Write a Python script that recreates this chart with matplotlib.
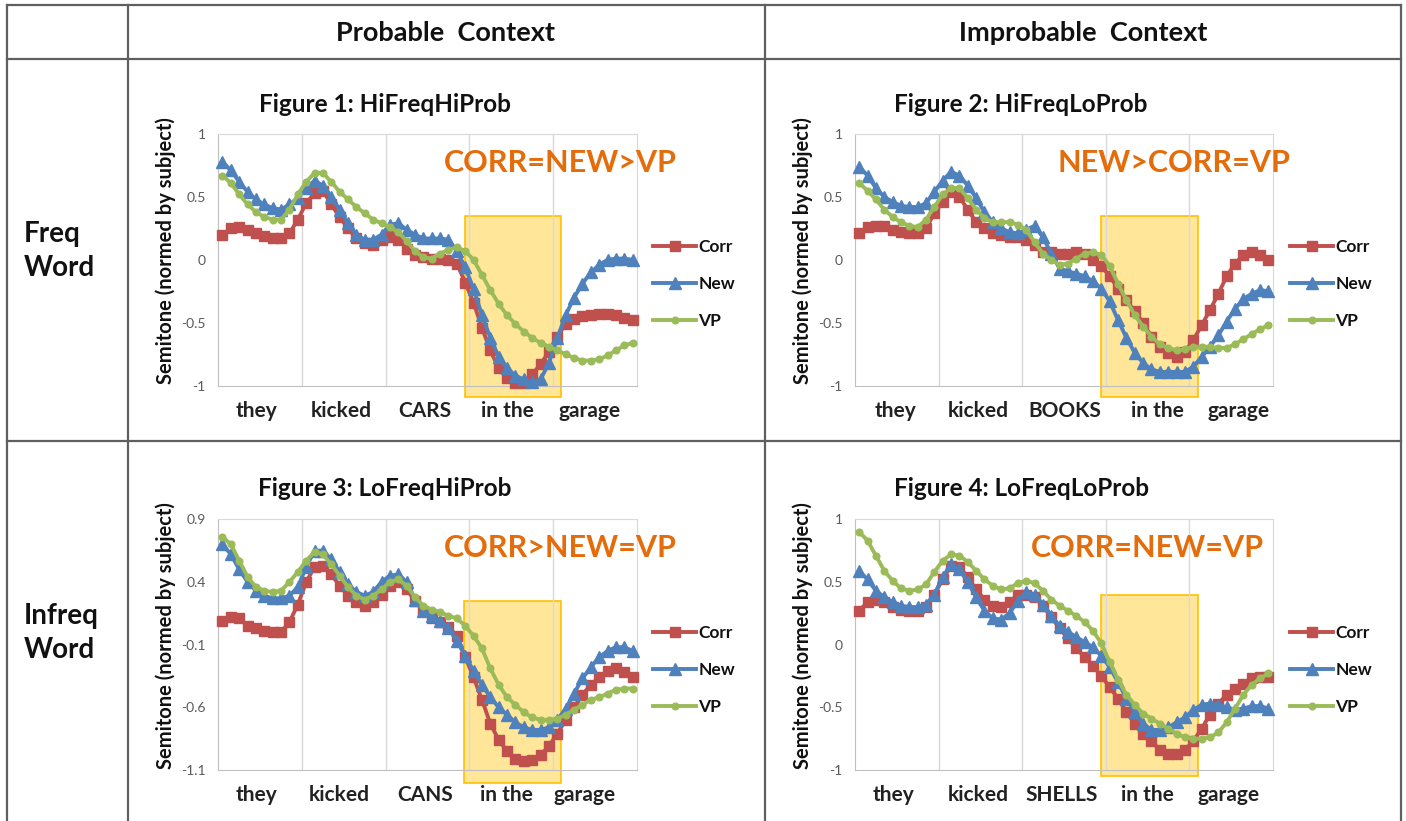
import numpy as np
import matplotlib
matplotlib.use("Agg")
import matplotlib.pyplot as plt
from matplotlib.patches import Rectangle

plt.rcParams['font.family'] = ['Lato', 'DejaVu Sans']

# ---- data (semitone, normed by subject), 50 samples across the sentence ----
words1 = ['they', 'kicked', 'CARS', 'in the', 'garage']
words2 = ['they', 'kicked', 'BOOKS', 'in the', 'garage']
words3 = ['they', 'kicked', 'CANS', 'in the', 'garage']
words4 = ['they', 'kicked', 'SHELLS', 'in the', 'garage']

corr1 = [0.20, 0.25, 0.26, 0.24, 0.21, 0.19, 0.17, 0.17, 0.21, 0.32,
         0.45, 0.53, 0.55, 0.44, 0.34, 0.25, 0.17, 0.13, 0.12, 0.16,
         0.18, 0.16, 0.09, 0.04, 0.02, 0.01, 0.01, 0.00, -0.03, -0.18,
         -0.34, -0.54, -0.72, -0.86, -0.94, -0.98, -0.98, -0.91, -0.83, -0.73,
         -0.61, -0.51, -0.47, -0.45, -0.44, -0.43, -0.43, -0.44, -0.46, -0.48]
new1 = [0.78, 0.71, 0.62, 0.54, 0.48, 0.44, 0.41, 0.40, 0.44, 0.49,
        0.57, 0.63, 0.59, 0.50, 0.40, 0.29, 0.20, 0.16, 0.16, 0.20,
        0.28, 0.29, 0.24, 0.20, 0.17, 0.17, 0.17, 0.16, 0.07, -0.06,
        -0.23, -0.44, -0.62, -0.77, -0.86, -0.92, -0.95, -0.97, -0.95, -0.82,
        -0.62, -0.44, -0.30, -0.19, -0.10, -0.04, 0.00, 0.01, 0.01, 0.00]
vp1 = [0.67, 0.61, 0.52, 0.44, 0.38, 0.34, 0.32, 0.32, 0.40, 0.52,
       0.62, 0.69, 0.69, 0.62, 0.54, 0.48, 0.42, 0.37, 0.32, 0.29,
       0.26, 0.22, 0.15, 0.07, 0.02, 0.01, 0.05, 0.08, 0.10, 0.07,
       0.00, -0.12, -0.24, -0.35, -0.44, -0.51, -0.57, -0.62, -0.66, -0.69,
       -0.72, -0.75, -0.78, -0.80, -0.80, -0.79, -0.76, -0.72, -0.68, -0.66]

corr2 = [0.21, 0.26, 0.27, 0.27, 0.24, 0.22, 0.21, 0.21, 0.25, 0.37,
         0.46, 0.54, 0.50, 0.40, 0.30, 0.25, 0.21, 0.20, 0.18, 0.18,
         0.16, 0.12, 0.06, 0.06, 0.05, 0.05, 0.06, 0.05, 0.00, -0.05,
         -0.13, -0.23, -0.32, -0.41, -0.50, -0.61, -0.69, -0.74, -0.77, -0.73,
         -0.64, -0.52, -0.40, -0.27, -0.13, -0.03, 0.04, 0.06, 0.04, 0.00]
new2 = [0.74, 0.67, 0.57, 0.50, 0.46, 0.43, 0.42, 0.42, 0.45, 0.54,
        0.63, 0.70, 0.67, 0.59, 0.49, 0.38, 0.30, 0.25, 0.22, 0.21,
        0.24, 0.27, 0.18, 0.05, -0.07, -0.09, -0.11, -0.13, -0.17, -0.23,
        -0.33, -0.48, -0.62, -0.74, -0.82, -0.87, -0.89, -0.89, -0.89, -0.89,
        -0.85, -0.77, -0.69, -0.60, -0.49, -0.39, -0.31, -0.27, -0.24, -0.25]
vp2 = [0.61, 0.55, 0.48, 0.40, 0.34, 0.30, 0.27, 0.26, 0.32, 0.42,
       0.52, 0.57, 0.57, 0.49, 0.40, 0.33, 0.30, 0.30, 0.30, 0.28,
       0.24, 0.14, 0.05, 0.00, -0.04, -0.03, 0.01, 0.05, 0.06, 0.04,
       -0.05, -0.19, -0.32, -0.44, -0.53, -0.61, -0.67, -0.70, -0.72, -0.71,
       -0.69, -0.69, -0.69, -0.70, -0.70, -0.67, -0.63, -0.59, -0.55, -0.52]

corr3 = [0.09, 0.12, 0.11, 0.05, 0.03, 0.01, 0.00, 0.00, 0.08, 0.22,
         0.40, 0.52, 0.53, 0.46, 0.37, 0.29, 0.24, 0.21, 0.24, 0.30,
         0.37, 0.40, 0.34, 0.25, 0.17, 0.11, 0.08, 0.04, -0.03, -0.20,
         -0.36, -0.54, -0.73, -0.86, -0.95, -1.01, -1.03, -1.02, -0.98, -0.91,
         -0.81, -0.70, -0.60, -0.50, -0.42, -0.36, -0.31, -0.29, -0.32, -0.36]
new3 = [0.70, 0.62, 0.50, 0.40, 0.33, 0.29, 0.27, 0.27, 0.29, 0.36,
        0.52, 0.65, 0.65, 0.58, 0.48, 0.38, 0.32, 0.29, 0.32, 0.40,
        0.45, 0.46, 0.40, 0.26, 0.17, 0.13, 0.09, 0.03, -0.07, -0.19,
        -0.31, -0.42, -0.52, -0.60, -0.66, -0.72, -0.76, -0.78, -0.78, -0.76,
        -0.70, -0.61, -0.49, -0.37, -0.28, -0.20, -0.15, -0.12, -0.12, -0.15]
vp3 = [0.76, 0.70, 0.57, 0.44, 0.36, 0.33, 0.32, 0.33, 0.40, 0.48,
       0.57, 0.64, 0.62, 0.54, 0.45, 0.36, 0.29, 0.26, 0.29, 0.34,
       0.40, 0.42, 0.37, 0.28, 0.21, 0.18, 0.16, 0.13, 0.11, 0.05,
       -0.03, -0.13, -0.29, -0.42, -0.52, -0.58, -0.64, -0.68, -0.70, -0.70,
       -0.69, -0.66, -0.62, -0.58, -0.54, -0.52, -0.49, -0.46, -0.45, -0.45]

corr4 = [0.27, 0.34, 0.36, 0.34, 0.30, 0.28, 0.27, 0.27, 0.30, 0.40,
         0.52, 0.63, 0.62, 0.54, 0.44, 0.36, 0.31, 0.30, 0.34, 0.40,
         0.40, 0.38, 0.31, 0.22, 0.13, 0.05, -0.03, -0.10, -0.17, -0.25,
         -0.34, -0.43, -0.54, -0.63, -0.71, -0.77, -0.84, -0.87, -0.87, -0.84,
         -0.77, -0.67, -0.56, -0.47, -0.40, -0.35, -0.31, -0.27, -0.26, -0.26]
new4 = [0.59, 0.52, 0.43, 0.38, 0.34, 0.31, 0.30, 0.30, 0.32, 0.40,
        0.54, 0.64, 0.60, 0.50, 0.38, 0.27, 0.21, 0.20, 0.25, 0.35,
        0.42, 0.40, 0.32, 0.23, 0.15, 0.10, 0.06, 0.02, -0.02, -0.09,
        -0.18, -0.30, -0.43, -0.54, -0.63, -0.68, -0.68, -0.66, -0.62, -0.58,
        -0.52, -0.48, -0.47, -0.48, -0.50, -0.52, -0.51, -0.49, -0.49, -0.51]
vp4 = [0.90, 0.83, 0.71, 0.59, 0.51, 0.45, 0.43, 0.44, 0.48, 0.58,
       0.67, 0.72, 0.71, 0.66, 0.59, 0.52, 0.47, 0.44, 0.45, 0.49,
       0.51, 0.49, 0.43, 0.36, 0.31, 0.27, 0.23, 0.18, 0.11, 0.01,
       -0.14, -0.28, -0.40, -0.48, -0.55, -0.59, -0.63, -0.67, -0.71, -0.74,
       -0.75, -0.75, -0.74, -0.70, -0.62, -0.51, -0.40, -0.32, -0.27, -0.23]

yticks_a = [-1, -0.5, 0, 0.5, 1]
yticks_b = [-1.1, -0.6, -0.1, 0.4, 0.9]

titles = ['Figure 1: HiFreqHiProb', 'Figure 2: HiFreqLoProb',
          'Figure 3: LoFreqHiProb', 'Figure 4: LoFreqLoProb']
notes = ['CORR=NEW>VP', 'NEW>CORR=VP', 'CORR>NEW=VP', 'CORR=NEW=VP']

RED, BLUE, GREEN = '#C0504D', '#4F81BD', '#9BBB59'
ORANGE = '#E46C0A'
W, H = 1406, 821

fig = plt.figure(figsize=(W / 100, H / 100), dpi=100)

# table frame drawn in pixel coordinates
bg = fig.add_axes([0, 0, 1, 1])
bg.set_xlim(0, W)
bg.set_ylim(H, 0)
bg.axis('off')
lc = '#5f5f5f'
for x in [7, 127.5, 765, 1400.5]:
    bg.plot([x, x], [5, H], color=lc, lw=1.6)
for y in [5, 59.5, 441]:
    bg.plot([7, 1400.5], [y, y], color=lc, lw=1.6)

bg.text(446, 33, 'Probable  Context', ha='center', va='center', fontsize=19.5, fontweight='bold', color='#111111')
bg.text(1083, 33, 'Improbable  Context', ha='center', va='center', fontsize=19.5, fontweight='bold', color='#111111')
bg.text(24, 251, 'Freq\nWord', ha='left', va='center', fontsize=20, fontweight='bold', color='#111111', linespacing=1.4)
bg.text(24, 633, 'Infreq\nWord', ha='left', va='center', fontsize=20, fontweight='bold', color='#111111', linespacing=1.4)

# panel geometry in pixels: left, top, right, bottom
boxes = [(218.3, 134, 636.8, 385.7), (855, 134, 1272.6, 385.7),
         (218.3, 519.3, 636.8, 770), (855, 519.3, 1272.6, 770)]
title_pos = [(385, 104), (1021, 104), (385, 488), (1021, 488)]
legend_pos = [(653, 284), (1290, 284), (653, 670), (1290, 670)]
rects = [(29.5, 41.0, -1.09, 0.35), (29.5, 41.1, -1.09, 0.35),
         (29.4, 41.0, -1.20, 0.25), (29.5, 41.1, -1.05, 0.40)]
note_pos = [(27.0, 0.77), (24.2, 0.77), (27.0, 0.67), (21.0, 0.77)]
word_pos = [[4.6, 14.65, 24.7, 34.5, 44.3], [4.8, 14.7, 25.1, 36.2, 45.9],
            [4.6, 14.5, 24.7, 34.4, 43.8], [4.55, 14.7, 24.8, 35.0, 44.7]]

series = [(corr1, new1, vp1), (corr2, new2, vp2), (corr3, new3, vp3), (corr4, new4, vp4)]
words = [words1, words2, words3, words4]
yticks = [yticks_a, yticks_a, yticks_b, yticks_a]

for k in range(4):
    l, t, r, b = boxes[k]
    ax = fig.add_axes([l / W, 1 - b / H, (r - l) / W, (b - t) / H])
    corr, new, vp = series[k]
    x = np.arange(len(corr)) + 0.5

    x0, x1, y0, y1 = rects[k]
    ax.add_patch(Rectangle((x0, y0), x1 - x0, y1 - y0, facecolor='#FFE699',
                           edgecolor='#FFC000', lw=1.2, clip_on=False, zorder=0.5))
    for gx in [10, 20, 30, 40]:
        ax.axvline(gx, color='#D9D9D9', lw=1, zorder=1)

    ax.plot(x, corr, color=RED, lw=2.8, marker='s', ms=7.5, label='Corr', zorder=3, clip_on=False)
    ax.plot(x, new, color=BLUE, lw=2.8, marker='^', ms=8, label='New', zorder=4, clip_on=False)
    ax.plot(x, vp, color=GREEN, lw=2.8, marker='o', ms=4.8, label='VP', zorder=5, clip_on=False)

    ax.set_xlim(0, 50)
    ax.set_ylim(yticks[k][0], yticks[k][-1])
    ax.set_yticks(yticks[k])
    ax.set_yticklabels([f'{v:g}' for v in yticks[k]])
    ax.set_xticks(word_pos[k])
    ax.set_xticklabels(words[k], fontsize=15, fontweight='bold', color='#222222')
    ax.tick_params(axis='y', length=0, pad=9, labelsize=10, labelcolor='#595959')
    ax.tick_params(axis='x', length=0, pad=11)
    for side in ['top', 'right']:
        ax.spines[side].set_color('#D9D9D9')
    for side in ['left', 'bottom']:
        ax.spines[side].set_color('#BFBFBF')
    ax.set_ylabel('Semitone (normed by subject)', fontsize=14.5, fontweight='bold', color='#111111')
    ax.yaxis.set_label_coords(-0.101, 0.535)

    ax.text(note_pos[k][0], note_pos[k][1], notes[k], ha='left', va='center',
            fontsize=22, fontweight='bold', color=ORANGE, zorder=6)

    bg.text(title_pos[k][0], title_pos[k][1], titles[k], ha='center', va='center',
            fontsize=17.5, fontweight='bold', color='#111111')

    lx, ly = legend_pos[k]
    leg = ax.legend(loc='center left', bbox_to_anchor=(lx / W, 1 - ly / H),
                    bbox_transform=fig.transFigure, frameon=False, fontsize=12.5,
                    handlelength=2.5, handletextpad=0.1, labelspacing=1.2,
                    borderpad=0, borderaxespad=0)
    for txt in leg.get_texts():
        txt.set_fontweight('bold')
        txt.set_color('#111111')

fig.savefig('out.png', dpi=100)
